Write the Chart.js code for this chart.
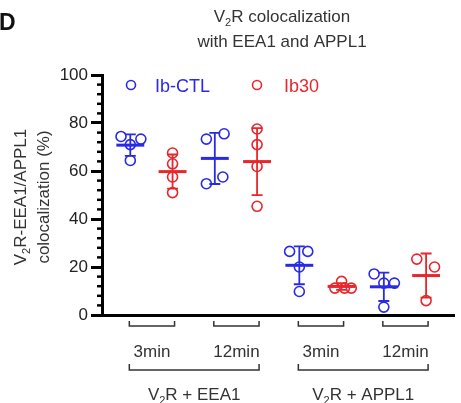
<!DOCTYPE html>
<html>
<head>
<meta charset="utf-8">
<script src="https://cdn.jsdelivr.net/npm/chart.js@4.4.1/dist/chart.umd.min.js"></script>
<style>
  html, body { margin: 0; padding: 0; background: #fff; }
  #wrap { width: 461px; height: 403px; position: relative; }
</style>
</head>
<body>
<div id="wrap"><canvas id="myChart"></canvas></div>
<script>
// data
var timeLabels = ['3min', '12min', '3min', '12min'];
var pairLabels = ['EEA1', 'APPL1'];
var seriesNames = ['Ib-CTL', 'Ib30'];
var ctlValues = [
    [74.4, 73.3, 71, 64.4],
    [73.3, 75.5, 57.5, 54.7],
    [26.5, 26.5, 20, 9.8],
    [17.1, 13.3, 13.3, 3.3]
];
var ib30Values = [
    [67.5, 63, 57.5, 51],
    [77.5, 71, 61.9, 45.3],
    [14, 11.2, 11.2, 11.2],
    [23.3, 20, 6]
];
// horizontal scatter of the dots inside each column
var ctlJitter = [[-0.22, 0.25, 0, 0], [-0.2, 0.22, 0.19, -0.2], [-0.23, 0.2, 0, 0], [-0.23, 0, 0.25, 0]];
var ib30Jitter = [[0, 0, 0, 0], [0, 0, 0, 0], [0, -0.16, 0.07, 0.23], [-0.22, 0.2, 0]];

var blue = '#2a2ae6';
var red = '#e8262b';
var font = '"Liberation Sans", Arial, sans-serif';
Chart.defaults.font.family = font;

function points(values, jitter, offset) {
    var out = [];
    values.forEach(function(g, i) {
        g.forEach(function(v, j) {
            out.push({ x: 2 * i + offset + jitter[i][j], y: v });
        });
    });
    return out;
}

function meanSd(arr) {
    var m = arr.reduce(function(a, b) { return a + b; }, 0) / arr.length;
    var s = arr.reduce(function(a, b) { return a + (b - m) * (b - m); }, 0) / (arr.length - 1);
    return [m, Math.sqrt(s)];
}

function drawRich(ctx, parts, x, y, size) {
    // parts: [text, isSub]
    var w = 0;
    parts.forEach(function(p) {
        ctx.font = (p[1] ? size * 0.65 : size) + 'px ' + font;
        w += ctx.measureText(p[0]).width;
    });
    var cx = x - w / 2;
    ctx.textAlign = 'left';
    parts.forEach(function(p) {
        ctx.font = (p[1] ? size * 0.65 : size) + 'px ' + font;
        ctx.fillText(p[0], cx, p[1] ? y + size * 0.25 : y);
        cx += ctx.measureText(p[0]).width;
    });
}

var extras = {
    id: 'extras',
    afterDraw: function(chart) {
        var ctx = chart.ctx;
        var xs = chart.scales.x, ys = chart.scales.y;
        var left = chart.chartArea.left;
        ctx.save();

        // minor ticks
        ctx.strokeStyle = '#000';
        ctx.lineWidth = 2.5;
        for (var v = 4; v < 100; v += 4) {
            if (v % 20 === 0) continue;
            var py = ys.getPixelForValue(v);
            ctx.beginPath();
            ctx.moveTo(left - 5, py);
            ctx.lineTo(left, py);
            ctx.stroke();
        }

        // mean and SD bars
        [[ctlValues, blue, 1], [ib30Values, red, 2]].forEach(function(s) {
            ctx.strokeStyle = s[1];
            s[0].forEach(function(g, i) {
                var x = 2 * i + s[2];
                var ms = meanSd(g);
                var cx = xs.getPixelForValue(x);
                var top = ys.getPixelForValue(ms[0] + ms[1]);
                var bot = ys.getPixelForValue(ms[0] - ms[1]);
                ctx.lineWidth = 1.8;
                ctx.beginPath();
                ctx.moveTo(cx, top); ctx.lineTo(cx, bot);
                ctx.moveTo(xs.getPixelForValue(x - 0.13), top); ctx.lineTo(xs.getPixelForValue(x + 0.13), top);
                ctx.moveTo(xs.getPixelForValue(x - 0.13), bot); ctx.lineTo(xs.getPixelForValue(x + 0.13), bot);
                ctx.stroke();
                ctx.lineWidth = 3;
                var my = ys.getPixelForValue(ms[0]);
                ctx.beginPath();
                ctx.moveTo(xs.getPixelForValue(x - 0.33), my);
                ctx.lineTo(xs.getPixelForValue(x + 0.33), my);
                ctx.stroke();
            });
        });

        // legend
        ctx.lineWidth = 1.6;
        ctx.font = '18px ' + font;
        ctx.textBaseline = 'alphabetic';
        ctx.textAlign = 'left';
        [[blue, 131, 155, seriesNames[0]], [red, 257, 284, seriesNames[1]]].forEach(function(l) {
            ctx.strokeStyle = l[0];
            ctx.fillStyle = l[0];
            ctx.beginPath();
            ctx.arc(l[1], 85, 4.5, 0, Math.PI * 2);
            ctx.stroke();
            ctx.fillText(l[3], l[2], 91.5);
        });

        // panel letter and title
        ctx.fillStyle = '#111';
        ctx.font = 'bold 23px ' + font;
        ctx.fillText('D', -1, 29.5);
        ctx.fillStyle = '#333';
        drawRich(ctx, [['V', false], ['2', true], ['R colocalization', false]], 282, 22, 17);
        drawRich(ctx, [['with EEA1 and APPL1', false]], 282, 46.5, 17);

        // y title
        ctx.save();
        ctx.translate(26, 197);
        ctx.rotate(-Math.PI / 2);
        drawRich(ctx, [['V', false], ['2', true], ['R-EEA1/APPL1', false]], 0, 0, 17);
        ctx.restore();
        ctx.save();
        ctx.translate(49, 197);
        ctx.rotate(-Math.PI / 2);
        drawRich(ctx, [['colocalization (%)', false]], 0, 0, 17);
        ctx.restore();

        // x brackets and labels
        ctx.strokeStyle = '#333';
        ctx.lineWidth = 1.5;
        for (var i = 0; i < 4; i++) {
            var a = xs.getPixelForValue(2 * i + 1) - 1;
            var b = xs.getPixelForValue(2 * i + 2) + 2;
            ctx.beginPath();
            ctx.moveTo(a, 321); ctx.lineTo(a, 326); ctx.lineTo(b, 326); ctx.lineTo(b, 321);
            ctx.stroke();
            drawRich(ctx, [[timeLabels[i], false]], (a + b) / 2, 357, 17);
        }
        for (var k = 0; k < 2; k++) {
            var a2 = xs.getPixelForValue(4 * k + 1) - 1;
            var b2 = xs.getPixelForValue(4 * k + 4) + 2;
            ctx.beginPath();
            ctx.moveTo(a2, 364); ctx.lineTo(a2, 370); ctx.lineTo(b2, 370); ctx.lineTo(b2, 364);
            ctx.stroke();
            drawRich(ctx, [['V', false], ['2', true], ['R + ' + pairLabels[k], false]], (a2 + b2) / 2, 400, 17);
        }
        ctx.restore();
    }
};

var ctx = document.getElementById('myChart').getContext('2d');

var myChart = new Chart(ctx, {
    type: 'scatter',
    data: {
        datasets: [{
            label: seriesNames[0],
            data: points(ctlValues, ctlJitter, 1),
            borderColor: blue,
            backgroundColor: 'rgba(0,0,0,0)',
            pointRadius: 5,
            borderWidth: 1.6
        }, {
            label: seriesNames[1],
            data: points(ib30Values, ib30Jitter, 2),
            borderColor: red,
            backgroundColor: 'rgba(0,0,0,0)',
            pointRadius: 5,
            borderWidth: 1.6
        }]
    },
    options: {
        responsive: true,
        maintainAspectRatio: false,
        animation: false,
        layout: { padding: { top: 75, right: 0, bottom: 88, left: 0 } },
        plugins: { legend: { display: false }, tooltip: { enabled: false } },
        scales: {
            x: {
                type: 'linear',
                min: 0.33,
                max: 8.67,
                grid: { display: false },
                ticks: { display: false },
                border: { display: true, color: '#000', width: 3 },
                afterFit: function(s) { s.height = 0; }
            },
            y: {
                min: 0,
                max: 100,
                ticks: { stepSize: 20, color: '#222', font: { size: 17 }, padding: 3 },
                grid: { drawOnChartArea: false, drawTicks: true, tickLength: 11, lineWidth: 3, color: '#000' },
                border: { display: true, color: '#000', width: 3 },
                afterFit: function(s) { s.width = 102; }
            }
        }
    },
    plugins: [extras]
});
</script>
</body>
</html>
